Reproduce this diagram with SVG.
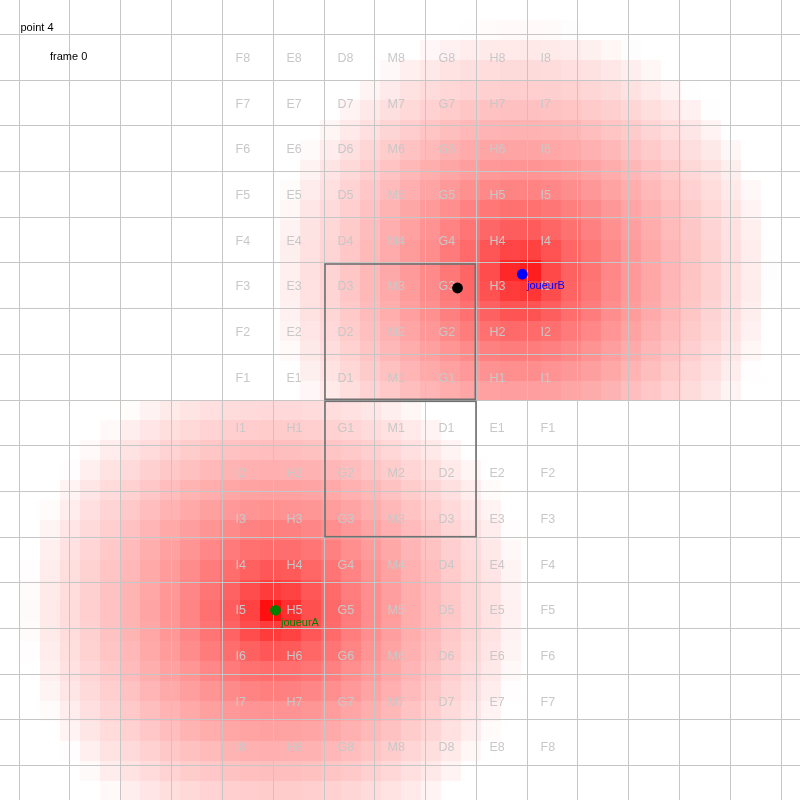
<svg xmlns="http://www.w3.org/2000/svg" width="800" height="800" viewBox="0 0 800 800">
<style>
.g{stroke:#c6c6c6;stroke-width:1;fill:none}
.box{stroke:#707070;stroke-width:1.6;fill:none}
.lbl{font-family:"Liberation Sans",Arial,sans-serif;font-size:12.5px;fill:#c8c8c8}
.t{font-family:"Liberation Sans",Arial,sans-serif;font-size:11px}
</style>
<defs>
<radialGradient id="heat" gradientUnits="objectBoundingBox" cx="0.5" cy="0.5" r="0.5">
<stop offset="0" stop-color="#f00" stop-opacity="1"/>
<stop offset="0.02" stop-color="#f00" stop-opacity="0.94"/>
<stop offset="0.05" stop-color="#f00" stop-opacity="0.84"/>
<stop offset="0.08" stop-color="#f00" stop-opacity="0.77"/>
<stop offset="0.12" stop-color="#f00" stop-opacity="0.71"/>
<stop offset="0.2" stop-color="#f00" stop-opacity="0.61"/>
<stop offset="0.3" stop-color="#f00" stop-opacity="0.52"/>
<stop offset="0.4" stop-color="#f00" stop-opacity="0.43"/>
<stop offset="0.5" stop-color="#f00" stop-opacity="0.355"/>
<stop offset="0.6" stop-color="#f00" stop-opacity="0.285"/>
<stop offset="0.7" stop-color="#f00" stop-opacity="0.215"/>
<stop offset="0.8" stop-color="#f00" stop-opacity="0.15"/>
<stop offset="0.88" stop-color="#f00" stop-opacity="0.10"/>
<stop offset="0.94" stop-color="#f00" stop-opacity="0.055"/>
<stop offset="0.98" stop-color="#f00" stop-opacity="0.02"/>
<stop offset="1" stop-color="#f00" stop-opacity="0"/>
</radialGradient>
<clipPath id="topHalf"><rect x="0" y="0" width="800" height="400"/></clipPath>
<clipPath id="botHalf"><rect x="0" y="400" width="800" height="400"/></clipPath>
<filter id="pix" filterUnits="userSpaceOnUse" primitiveUnits="userSpaceOnUse" x="0" y="0" width="800" height="800" color-interpolation-filters="sRGB">
<feFlood flood-color="#000" flood-opacity="1" x="10" y="10" width="1" height="1" result="d"/>
<feComposite in="d" in2="d" operator="over" x="0" y="0" width="20" height="20" result="t"/>
<feTile in="t" result="grid"/>
<feComposite in="SourceGraphic" in2="grid" operator="in" result="s"/>
<feMorphology in="s" operator="dilate" radius="10"/>
</filter>
</defs>
<rect x="0" y="0" width="800" height="800" fill="#fff"/>
<g id="heatmap" filter="url(#pix)">
<g clip-path="url(#topHalf)"><circle cx="522.3" cy="274.2" r="250" fill="url(#heat)"/></g>
<g clip-path="url(#botHalf)"><circle cx="275.5" cy="610.3" r="250" fill="url(#heat)"/></g>
</g>
<g id="grid" class="g">
<path d="M19.5 0V800M69.5 0V800M120.5 0V800M171.5 0V800M222.5 0V800M273.5 0V800M324.5 0V800M374.5 0V800M425.5 0V800M476.5 0V800M527.5 0V800M577.5 0V800M628.5 0V800M679.5 0V800M730.5 0V800M781.5 0V800"/>
<path d="M0 34.5H800M0 80.5H800M0 125.5H800M0 171.5H800M0 217.5H800M0 262.5H800M0 308.5H800M0 354.5H800M0 400.5H800M0 445.5H800M0 491.5H800M0 537.5H800M0 582.5H800M0 628.5H800M0 674.5H800M0 719.5H800M0 765.5H800"/>
</g>
<g id="zones">
<rect id="zoneB" class="box" x="325" y="264" width="150.3" height="135.3"/>
<rect id="zoneA" class="box" x="325" y="401.3" width="151" height="135.4"/>
</g>
<g id="labelsTop" class="lbl">
<text x="235.5" y="62">F8</text><text x="286.5" y="62">E8</text><text x="337.5" y="62">D8</text><text x="387.5" y="62">M8</text><text x="438.5" y="62">G8</text><text x="489.5" y="62">H8</text><text x="540.5" y="62">I8</text>
<text x="235.5" y="107.5">F7</text><text x="286.5" y="107.5">E7</text><text x="337.5" y="107.5">D7</text><text x="387.5" y="107.5">M7</text><text x="438.5" y="107.5">G7</text><text x="489.5" y="107.5">H7</text><text x="540.5" y="107.5">I7</text>
<text x="235.5" y="153">F6</text><text x="286.5" y="153">E6</text><text x="337.5" y="153">D6</text><text x="387.5" y="153">M6</text><text x="438.5" y="153">G6</text><text x="489.5" y="153">H6</text><text x="540.5" y="153">I6</text>
<text x="235.5" y="199">F5</text><text x="286.5" y="199">E5</text><text x="337.5" y="199">D5</text><text x="387.5" y="199">M5</text><text x="438.5" y="199">G5</text><text x="489.5" y="199">H5</text><text x="540.5" y="199">I5</text>
<text x="235.5" y="244.5">F4</text><text x="286.5" y="244.5">E4</text><text x="337.5" y="244.5">D4</text><text x="387.5" y="244.5">M4</text><text x="438.5" y="244.5">G4</text><text x="489.5" y="244.5">H4</text><text x="540.5" y="244.5">I4</text>
<text x="235.5" y="290">F3</text><text x="286.5" y="290">E3</text><text x="337.5" y="290">D3</text><text x="387.5" y="290">M3</text><text x="438.5" y="290">G3</text><text x="489.5" y="290">H3</text><text x="540.5" y="290">I3</text>
<text x="235.5" y="336">F2</text><text x="286.5" y="336">E2</text><text x="337.5" y="336">D2</text><text x="387.5" y="336">M2</text><text x="438.5" y="336">G2</text><text x="489.5" y="336">H2</text><text x="540.5" y="336">I2</text>
<text x="235.5" y="382">F1</text><text x="286.5" y="382">E1</text><text x="337.5" y="382">D1</text><text x="387.5" y="382">M1</text><text x="438.5" y="382">G1</text><text x="489.5" y="382">H1</text><text x="540.5" y="382">I1</text>
</g>
<g id="labelsBottom" class="lbl">
<text x="235.5" y="431.5">I1</text><text x="286.5" y="431.5">H1</text><text x="337.5" y="431.5">G1</text><text x="387.5" y="431.5">M1</text><text x="438.5" y="431.5">D1</text><text x="489.5" y="431.5">E1</text><text x="540.5" y="431.5">F1</text>
<text x="235.5" y="477">I2</text><text x="286.5" y="477">H2</text><text x="337.5" y="477">G2</text><text x="387.5" y="477">M2</text><text x="438.5" y="477">D2</text><text x="489.5" y="477">E2</text><text x="540.5" y="477">F2</text>
<text x="235.5" y="523">I3</text><text x="286.5" y="523">H3</text><text x="337.5" y="523">G3</text><text x="387.5" y="523">M3</text><text x="438.5" y="523">D3</text><text x="489.5" y="523">E3</text><text x="540.5" y="523">F3</text>
<text x="235.5" y="568.5">I4</text><text x="286.5" y="568.5">H4</text><text x="337.5" y="568.5">G4</text><text x="387.5" y="568.5">M4</text><text x="438.5" y="568.5">D4</text><text x="489.5" y="568.5">E4</text><text x="540.5" y="568.5">F4</text>
<text x="235.5" y="614">I5</text><text x="286.5" y="614">H5</text><text x="337.5" y="614">G5</text><text x="387.5" y="614">M5</text><text x="438.5" y="614">D5</text><text x="489.5" y="614">E5</text><text x="540.5" y="614">F5</text>
<text x="235.5" y="660">I6</text><text x="286.5" y="660">H6</text><text x="337.5" y="660">G6</text><text x="387.5" y="660">M6</text><text x="438.5" y="660">D6</text><text x="489.5" y="660">E6</text><text x="540.5" y="660">F6</text>
<text x="235.5" y="705.5">I7</text><text x="286.5" y="705.5">H7</text><text x="337.5" y="705.5">G7</text><text x="387.5" y="705.5">M7</text><text x="438.5" y="705.5">D7</text><text x="489.5" y="705.5">E7</text><text x="540.5" y="705.5">F7</text>
<text x="235.5" y="751">I8</text><text x="286.5" y="751">H8</text><text x="337.5" y="751">G8</text><text x="387.5" y="751">M8</text><text x="438.5" y="751">D8</text><text x="489.5" y="751">E8</text><text x="540.5" y="751">F8</text>
</g>
<g id="ball"><circle cx="457.5" cy="288" r="5.4" fill="#000"/></g>
<g id="joueurB"><circle cx="522.3" cy="274.2" r="5.4" fill="#00f"/><text class="t" x="527" y="289" fill="#00f">joueurB</text></g>
<g id="joueurA"><circle cx="275.5" cy="610.3" r="5.4" fill="#008000"/><text class="t" x="281" y="625.5" fill="#008000">joueurA</text></g>
<g id="info" class="t" fill="#000">
<text x="20.5" y="30.5">point 4</text>
<text x="50" y="60">frame 0</text>
</g>
</svg>
